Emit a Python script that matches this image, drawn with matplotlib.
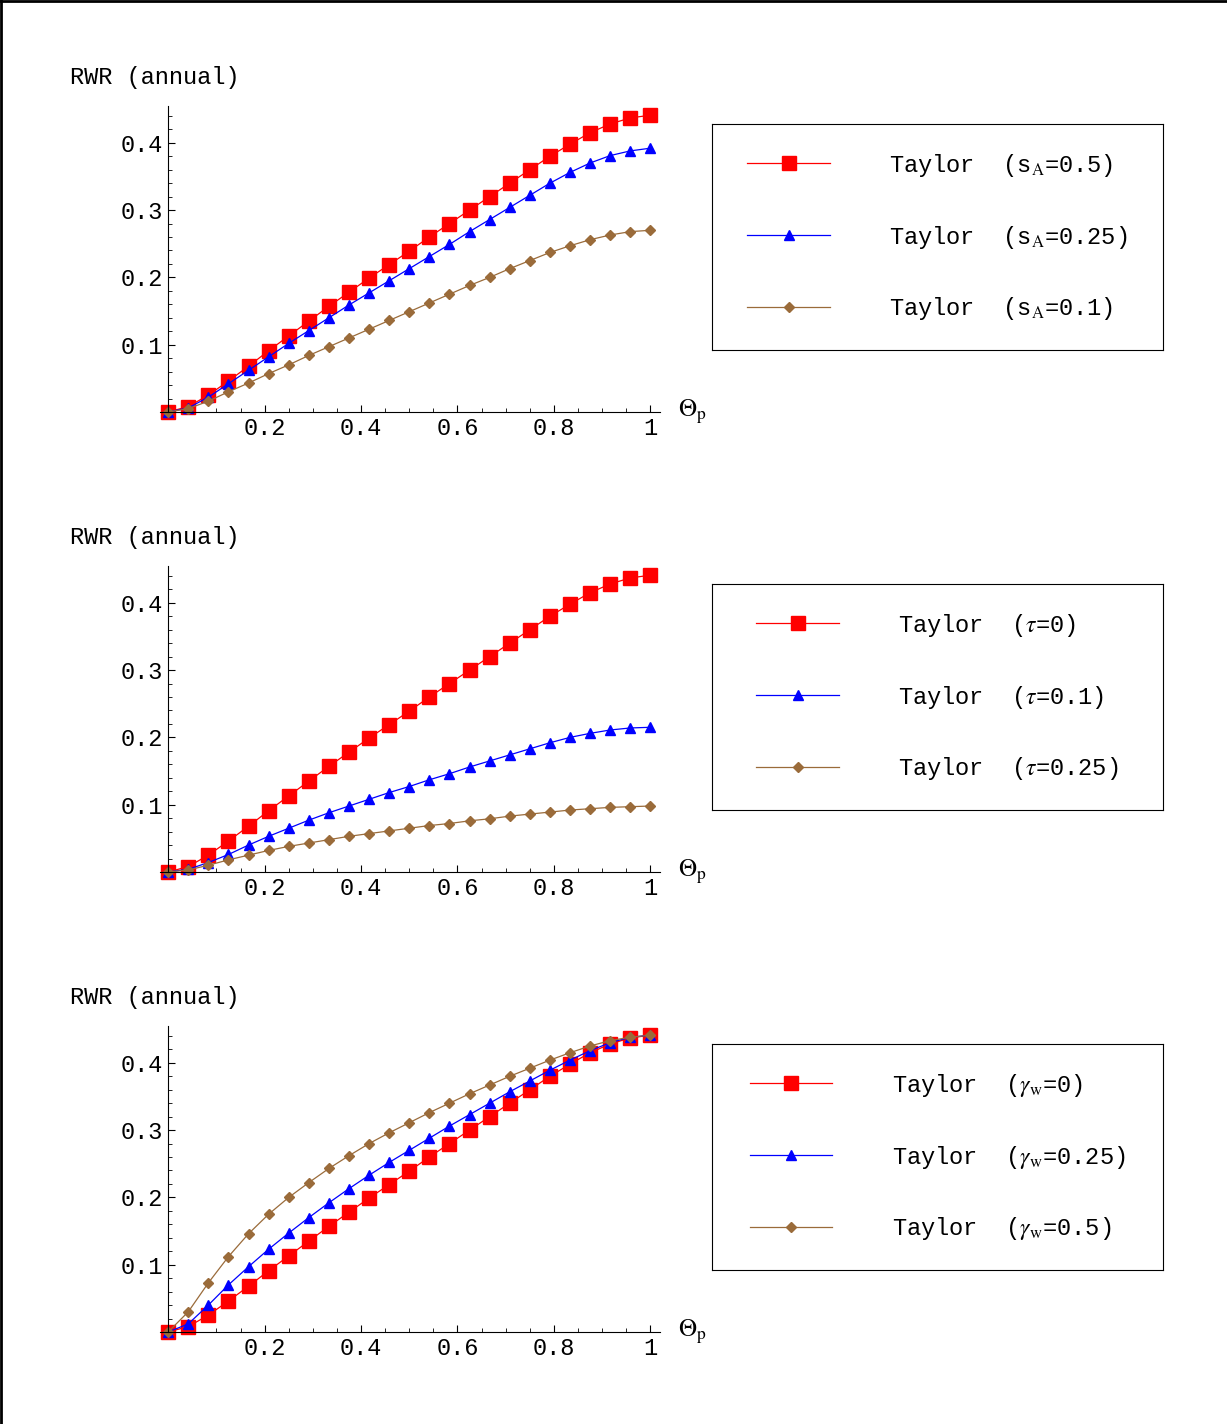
import numpy as np
import matplotlib.pyplot as plt
from matplotlib.ticker import MultipleLocator, FixedLocator

theta = np.linspace(0, 1, 25)

red = [0, 0.008, 0.025, 0.046, 0.068, 0.091, 0.113, 0.135, 0.157, 0.178, 0.199, 0.219, 0.239,
       0.26, 0.28, 0.3, 0.32, 0.34, 0.36, 0.38, 0.398, 0.415, 0.428, 0.437, 0.441]
sA_blue = [0, 0.006, 0.022, 0.042, 0.062, 0.082, 0.102, 0.121, 0.14, 0.159, 0.177, 0.195, 0.213,
           0.231, 0.249, 0.268, 0.286, 0.304, 0.322, 0.34, 0.356, 0.37, 0.381, 0.388, 0.392]
sA_brown = [0, 0.005, 0.016, 0.03, 0.043, 0.057, 0.07, 0.084, 0.097, 0.11, 0.123, 0.136, 0.149,
            0.162, 0.175, 0.188, 0.2, 0.213, 0.225, 0.237, 0.247, 0.256, 0.263, 0.268, 0.27]
tau_blue = [0, 0.004, 0.014, 0.026, 0.04, 0.053, 0.065, 0.077, 0.088, 0.098, 0.108, 0.118, 0.127,
            0.137, 0.146, 0.156, 0.165, 0.174, 0.183, 0.192, 0.2, 0.206, 0.211, 0.214, 0.215]
tau_brown = [0, 0.003, 0.01, 0.018, 0.025, 0.032, 0.038, 0.043, 0.048, 0.053, 0.057, 0.061, 0.065,
             0.069, 0.072, 0.076, 0.079, 0.083, 0.086, 0.089, 0.092, 0.094, 0.096, 0.097, 0.098]
gw_blue = [0, 0.012, 0.04, 0.07, 0.097, 0.123, 0.147, 0.17, 0.192, 0.213, 0.233, 0.252, 0.27,
           0.288, 0.306, 0.323, 0.34, 0.357, 0.373, 0.389, 0.404, 0.418, 0.43, 0.438, 0.441]
gw_brown = [0, 0.03, 0.073, 0.112, 0.146, 0.175, 0.2, 0.222, 0.243, 0.262, 0.28, 0.296, 0.311,
            0.326, 0.34, 0.354, 0.367, 0.38, 0.392, 0.404, 0.415, 0.425, 0.433, 0.438, 0.441]

panels = [
    ([red, sA_blue, sA_brown], ['Taylor  (s$_\\mathrm{A}$=0.5)', 'Taylor  (s$_\\mathrm{A}$=0.25)', 'Taylor  (s$_\\mathrm{A}$=0.1)']),
    ([red, tau_blue, tau_brown], ['Taylor  ($\\tau$=0)', 'Taylor  ($\\tau$=0.1)', 'Taylor  ($\\tau$=0.25)']),
    ([red, gw_blue, gw_brown], ['Taylor  ($\\gamma_\\mathrm{w}$=0)', 'Taylor  ($\\gamma_\\mathrm{w}$=0.25)', 'Taylor  ($\\gamma_\\mathrm{w}$=0.5)']),
]

plt.rcParams['font.family'] = 'Liberation Mono'
plt.rcParams['mathtext.fontset'] = 'stix'
fig = plt.figure(figsize=(12.27, 14.24), dpi=100)
fig.add_artist(plt.Line2D([0.001, 0.001], [0, 1], color='black', lw=2))
fig.add_artist(plt.Line2D([0, 1], [0.9995, 0.9995], color='black', lw=2))

colors = ['#ff0000', '#0000ff', '#9a6b3a']
markers = ['s', '^', 'D']
msizes = [10, 7, 5]
for i, (series, labels) in enumerate(panels):
    off = i * 460 / 1424
    ax = fig.add_axes([160 / 1227, 0.7107 - off, 500 / 1227, 0.215])
    lines = []
    for s, c, m, ms, lab in zip(series, colors, markers, msizes, labels):
        l, = ax.plot(theta, s, color=c, marker=m, ms=ms, lw=0.9, label=lab, clip_on=False)
        lines.append(l)
    ax.set_xlim(-0.017, 1.02)
    ax.set_ylim(0, 0.455)
    for sp in ['top', 'right']:
        ax.spines[sp].set_visible(False)
    ax.spines['left'].set_position(('data', 0))
    ax.xaxis.set_major_locator(FixedLocator([0.2, 0.4, 0.6, 0.8, 1]))
    ax.set_xticklabels(['0.2', '0.4', '0.6', '0.8', '1'])
    ax.xaxis.set_minor_locator(MultipleLocator(0.05))
    ax.yaxis.set_major_locator(FixedLocator([0.1, 0.2, 0.3, 0.4]))
    ax.yaxis.set_minor_locator(MultipleLocator(0.02))
    ax.tick_params(labelsize=17, direction='in', length=5)
    ax.tick_params(which='minor', direction='in', length=3)
    ax.text(-0.18, 1.07, 'RWR (annual)', transform=ax.transAxes, fontsize=17)
    ax.text(1.035, 0.0, '$\\mathit{\\Theta}_\\mathrm{p}$', transform=ax.transAxes, fontsize=18, va='center')
    lax = fig.add_axes([0.58, 0.754 - off, 0.368, 0.159])
    lax.set_xticks([]); lax.set_yticks([])
    lax.legend(handles=lines, loc='center', frameon=False, fontsize=17,
               labelspacing=1.9, handlelength=3.5, handletextpad=2.5)
plt.savefig('out.png')
